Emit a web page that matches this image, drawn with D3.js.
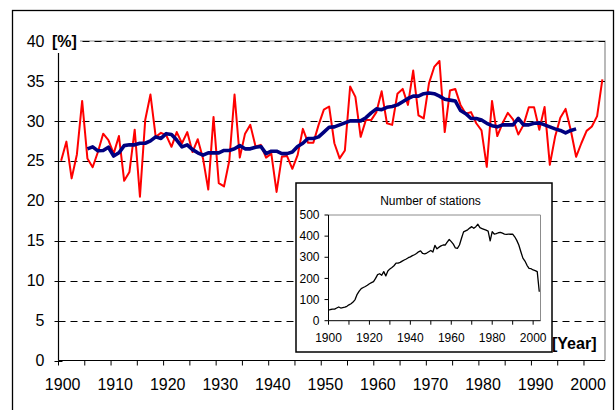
<!DOCTYPE html>
<html><head><meta charset="utf-8">
<script src="https://cdn.jsdelivr.net/npm/d3@7/dist/d3.min.js"></script>
<style>body{margin:0;background:#fff}svg{display:block;font-family:"Liberation Sans",Arial,sans-serif}</style>
</head><body><svg id="c" width="615" height="410"></svg>
<script>
const years = d3.range(1900, 2004);
const annualValues = [25.0,27.4,22.8,25.8,32.5,25.3,24.2,26.1,28.4,27.6,25.9,28.1,22.5,23.6,28.9,20.5,30.1,33.3,28.0,28.5,28.2,26.75,28.6,27.2,28.6,
26.1,27.7,25.3,21.4,30.5,22.2,21.8,25.0,33.3,25.4,28.4,29.5,26.8,27.0,25.4,25.9,21.1,25.5,25.6,24.0,25.7,29.0,27.25,27.25,29.5,
31.4,31.8,27.2,25.3,26.3,34.3,33.0,28.0,30.1,30.1,31.1,33.7,29.7,29.5,33.4,34.0,32.0,36.3,30.7,30.3,34.7,36.75,37.5,28.6,33.8,
34.0,32.0,30.9,31.1,29.7,28.8,24.25,32.5,28.1,29.7,31.0,30.2,28.3,29.5,31.7,31.7,28.9,31.75,24.5,28.0,30.4,31.5,28.8,25.5,27.2,28.75,29.3,30.6,35.2];
const smoothStart = 1905;
const smoothValues = [26.5,26.75,26.25,26.3,26.7,25.6,26.0,26.9,27.0,27.0,27.2,27.2,27.5,28.0,27.8,28.4,28.3,27.6,26.75,27.0,
26.4,26.0,25.7,26.0,26.0,26.0,26.3,26.3,26.5,26.9,26.5,26.5,26.7,26.8,25.9,26.2,26.2,25.9,25.9,26.1,26.8,27.2,27.8,27.8,28.0,
28.6,29.2,29.25,29.5,29.75,30.0,30.0,30.0,30.4,31.0,31.5,31.4,31.7,31.8,32.0,32.4,32.8,33.1,33.1,33.4,33.5,33.4,33.1,32.7,32.6,
32.5,31.3,30.9,30.3,30.3,30.1,29.7,29.4,29.25,29.5,29.5,29.5,30.3,29.5,29.5,29.7,29.75,29.5,29.25,29.0,28.8,28.5,28.8,29.0];
const stationCounts = [50,53,55,55,60,65,60,62,64,68,75,80,88,100,125,140,152,157,162,168,
175,180,185,200,218,222,215,232,212,235,245,252,260,272,272,276,282,287,292,298,
302,308,312,318,326,330,318,316,320,326,332,325,356,340,348,354,358,358,372,384,
374,362,344,342,358,390,420,425,430,438,445,437,445,456,440,436,432,428,424,378,
421,410,412,416,418,414,410,408,410,409,410,397,380,358,326,296,282,262,248,246,
240,237,232,137];
const yTicks = [0,5,10,15,20,25,30,35,40];
const xLabelYears = [1900,1910,1920,1930,1940,1950,1960,1970,1980,1990,2000];
const insetYTicks = [0,100,200,300,400,500];
const insetXLabels = [1900,1920,1940,1960,1980,2000];
const insetTitle = "Number of stations";

const svg = d3.select("#c");
// outer chart border
svg.append("rect").attr("x",12.5).attr("y",10.5).attr("width",601).attr("height",420)
  .attr("fill","#fff").attr("stroke","#000").attr("stroke-width",1.3);

const L = 58.5, R = 605, T = 41, B = 360.5;
const x = d3.scaleBand().domain(years).range([L, R]).paddingInner(0).paddingOuter(0);
const xc = yr => x(yr) + x.bandwidth()/2;
const y = d3.scaleLinear().domain([0,40]).range([B, T]);

// plot border (gray)
svg.append("path").attr("d",`M${L},${y(40)}H${R}V${B}`).attr("fill","none").attr("stroke","#8c8c8c").attr("stroke-width",1.2);
// gridlines
svg.append("g").selectAll("line").data(yTicks.filter(d=>d>0)).join("line")
  .attr("x1",L).attr("x2",R).attr("y1",d=>Math.round(y(d))+0.5).attr("y2",d=>Math.round(y(d))+0.5)
  .attr("stroke","#000").attr("stroke-width",1).attr("stroke-dasharray","7,5");

// red annual line
const line = d3.line().x(d=>xc(d[0])).y(d=>y(d[1]));
svg.append("path").datum(years.map((yr,i)=>[yr,annualValues[i]])).attr("d",line)
  .attr("fill","none").attr("stroke","#ff0000").attr("stroke-width",2).attr("stroke-linejoin","round");
svg.append("path").datum(smoothValues.map((v,i)=>[smoothStart+i,v])).attr("d",line)
  .attr("fill","none").attr("stroke","#000080").attr("stroke-width",3.6).attr("stroke-linejoin","round");

// y axis
const yAxis = svg.append("g").attr("transform",`translate(${L},0)`)
  .call(d3.axisLeft(y).tickValues(yTicks).tickSize(0).tickPadding(14).tickFormat(d3.format("d")));
yAxis.select(".domain").remove();
yAxis.selectAll("text").attr("font-size",16).attr("font-family","Liberation Sans, Arial").attr("fill","#000");
svg.append("g").selectAll("line").data(yTicks).join("line")
  .attr("x1",L-4).attr("x2",L+4).attr("y1",d=>Math.round(y(d))+0.5).attr("y2",d=>Math.round(y(d))+0.5).attr("stroke","#000");
svg.append("line").attr("x1",L).attr("x2",L).attr("y1",T).attr("y2",B).attr("stroke","#000").attr("stroke-width",1.2);

// x axis
svg.append("line").attr("x1",L).attr("x2",R).attr("y1",B).attr("y2",B).attr("stroke","#000").attr("stroke-width",1.2);
const tickYears = years.filter(yr => yr % 5 === 0);
svg.append("g").selectAll("line").data(tickYears).join("line")
  .attr("x1",d=>x(d)).attr("x2",d=>x(d)).attr("y1",B).attr("y2",B+5).attr("stroke","#000");
svg.append("g").selectAll("text").data(xLabelYears).join("text")
  .attr("x",d=>xc(d)+1.5).attr("y",390).attr("text-anchor","middle").attr("font-size",16).text(d=>d);

// [%] label
svg.append("rect").attr("x",50).attr("y",30).attr("width",30).attr("height",23).attr("fill","#fff");
svg.append("text").attr("x",52).attr("y",47).attr("font-size",16).attr("font-weight","bold").text("[%]");

// inset
const iX0 = 296, iY0 = 183, iW = 256, iH = 169;
svg.append("rect").attr("x",iX0).attr("y",iY0).attr("width",iW).attr("height",iH)
  .attr("fill","#fff").attr("stroke","#000").attr("stroke-width",1.5);
const iL = 328.5, iR = 540.5, iT = 215, iB = 320.7;
const ix = d3.scaleLinear().domain([1900, 2003.6]).range([iL, iR]);
const iy = d3.scaleLinear().domain([0,500]).range([iB, iT]);
svg.append("path").attr("d",`M${iL},${iT}H${iR}V${iB}`).attr("fill","none").attr("stroke","#8c8c8c").attr("stroke-width",1);
svg.append("line").attr("x1",iL).attr("x2",iL).attr("y1",iT).attr("y2",iB).attr("stroke","#000");
svg.append("line").attr("x1",iL).attr("x2",iR).attr("y1",iB).attr("y2",iB).attr("stroke","#000");
svg.append("g").selectAll("line").data(insetYTicks).join("line")
  .attr("x1",iL-4).attr("x2",iL).attr("y1",d=>iy(d)).attr("y2",d=>iy(d)).attr("stroke","#000");
svg.append("g").selectAll("text").data(insetYTicks).join("text")
  .attr("x",319.5).attr("y",d=>iy(d)+4.2).attr("text-anchor","end").attr("font-size",12).text(d=>d);
svg.append("g").selectAll("line").data(d3.range(1900,2001,10)).join("line")
  .attr("x1",d=>ix(d)).attr("x2",d=>ix(d)).attr("y1",iB).attr("y2",iB+4).attr("stroke","#000");
svg.append("g").selectAll("text").data(insetXLabels).join("text")
  .attr("x",d=>ix(d)).attr("y",342).attr("text-anchor","middle").attr("font-size",12).text(d=>d);
svg.append("path").datum(years.map((yr,i)=>[yr,stationCounts[i]]))
  .attr("d",d3.line().x(d=>ix(d[0])).y(d=>iy(d[1])))
  .attr("fill","none").attr("stroke","#000").attr("stroke-width",1.3).attr("stroke-linejoin","round");
svg.append("text").attr("x",430.5).attr("y",205).attr("text-anchor","middle").attr("font-size",12).text(insetTitle);

// [Year]
svg.append("text").attr("x",552).attr("y",349).attr("font-size",16).attr("font-weight","bold").text("[Year]");
</script></body></html>
